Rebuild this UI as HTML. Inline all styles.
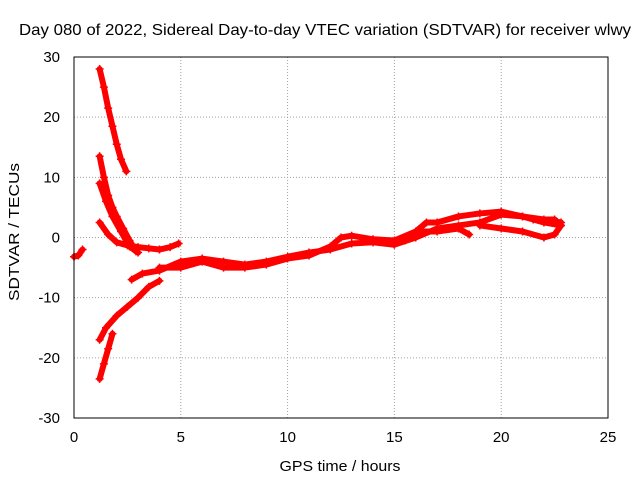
<!DOCTYPE html>
<html><head><meta charset="utf-8"><style>
body{margin:0;background:#fff}
svg{display:block;font-family:"Liberation Sans",sans-serif;font-size:15px}
</style></head><body>
<svg id="chart" width="640" height="480">
<text x="325" y="35" text-anchor="middle" textLength="612" lengthAdjust="spacingAndGlyphs" font-size="16">Day 080 of 2022, Sidereal Day-to-day VTEC variation (SDTVAR) for receiver wlwy</text>
<g id="grid"></g>
<g id="ticks"></g>
<g id="marks"></g>
<rect x="74" y="57" width="534" height="361" fill="none" stroke="#000"/>
<text x="340" y="471" text-anchor="middle" textLength="121" lengthAdjust="spacingAndGlyphs">GPS time / hours</text>
<text x="0" y="0" text-anchor="middle" textLength="138" lengthAdjust="spacingAndGlyphs" transform="translate(19,232) rotate(-90)">SDTVAR / TECUs</text>
</svg>
<script>
const xTicks=[0,5,10,15,20,25];
const yTicks=[-30,-20,-10,0,10,20,30];
const track1=[[1.2,28],[1.4,25],[1.6,21.5],[1.8,18.5],[2.0,15.5],[2.2,13],[2.45,11]];
const track2=[[1.2,13.5],[1.4,10],[1.6,7],[1.8,5],[2.0,3.5],[2.3,1.5],[2.6,-0.5],[2.9,-2.3]];
const track3=[[1.2,9],[1.5,6],[1.8,3.5],[2.2,1],[2.6,-1.5],[3.0,-2.5]];
const track4=[[1.2,2.5],[1.6,0.5],[2.0,-0.8],[2.5,-1.3],[3.0,-1.6],[3.5,-1.8],[4.0,-2],[4.5,-1.6],[4.9,-1]];
const track5=[[1.2,-17],[1.5,-15],[2.0,-13],[2.5,-11.5],[3.0,-10],[3.5,-8.2],[4.0,-7.2]];
const track6=[[1.2,-23.5],[1.4,-21],[1.6,-18.5],[1.8,-16]];
const track7=[[0,-3.2],[0.2,-3],[0.4,-2]];
const track8=[[2.7,-7],[3.2,-6],[4,-5.5],[5,-4],[6,-3.5],[7,-4],[8,-4.5],[9,-4],[10,-3.2],[11,-2.5],[12,-2],[13,-1],[14,-0.8],[15,-1.2],[16,0],[17,1.5],[18,2],[19,2.5],[20,3.8],[21,3.5],[22,3],[22.8,2.5]];
const track9=[[4,-5],[5,-5],[6,-4],[7,-5],[8,-5],[9,-4.5],[10,-3.5],[11,-3],[12,-1.5],[12.5,0],[13,0.3],[14,-0.3],[15,-0.5],[16,1],[16.5,2.5],[17,2.5],[18,3.5],[19,4],[20,4.3],[21,3.5],[22,2.5],[22.8,2]];
const track10=[[19,2],[20,1.5],[21,1],[22,0],[22.5,0.5],[22.8,2],[22.5,3],[21.5,3]];
const track11=[[15.5,-0.5],[16,1],[17,1],[18,1.5],[18.5,0.5]];
const tracks=[track1,track2,track3,track4,track5,track6,track7,track8,track9,track10,track11];
const X=v=>74+v*534/25, Y=v=>237.5-v*361/60;
const ns="http://www.w3.org/2000/svg";
const mk=(t,a,p)=>{const e=document.createElementNS(ns,t);for(const k in a)e.setAttribute(k,a[k]);p.appendChild(e);return e;};
const g=document.getElementById('grid'),tk=document.getElementById('ticks'),m=document.getElementById('marks');
xTicks.forEach(v=>{
 if(v>0&&v<25){const l=mk('line',{x1:X(v),x2:X(v),y1:57,y2:418,stroke:'#a0a0a0','stroke-dasharray':'1,2'},g);
 }
 const t=mk('text',{x:X(v),y:442,'text-anchor':'middle'},tk);t.textContent=v;
 
});
yTicks.forEach(v=>{
 if(v>-30&&v<30){const l=mk('line',{x1:74,x2:608,y1:Y(v),y2:Y(v),stroke:'#a0a0a0','stroke-dasharray':'1,2'},g);
 }
 const t=mk('text',{x:60,y:Y(v)+5,'text-anchor':'end'},tk);t.textContent=v;
 
});
tracks.forEach(tr=>{
 const pl=mk('polyline',{points:tr.map(p=>X(p[0])+','+Y(p[1])).join(' '),fill:'none',stroke:'#f00','stroke-width':6,'stroke-linejoin':'round','stroke-linecap':'round'},m);
 
 tr.forEach(p=>{const x=X(p[0]),y=Y(p[1]);
  const c=mk('path',{d:`M${x-4},${y}H${x+4}M${x},${y-4}V${y+4}`,stroke:'#f00','stroke-width':1.5},m);
  });
});
</script>
</body></html>
